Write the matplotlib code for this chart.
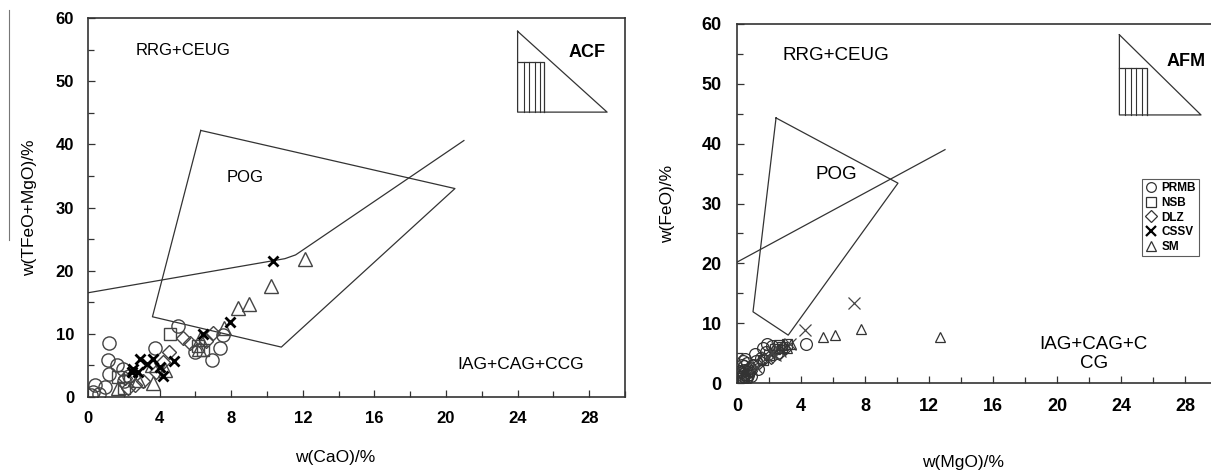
import numpy as np
import matplotlib
matplotlib.use('Agg')
import matplotlib.pyplot as plt
from matplotlib.ticker import MultipleLocator
from matplotlib.lines import Line2D

plt.rcParams['font.family'] = ['Liberation Sans', 'DejaVu Sans']

# Dados ==============================================================
# painel esquerdo: w(CaO) x w(TFeO+MgO)
prmb_x_l = [1.19, 1.13, 1.17, 0.39, 0.95, 1.6, 1.97, 3.74, 5.05, 5.98, 6.9, 7.37, 7.56, 0.3, 0.15, 0.6, 2.3, 2.0]
prmb_y_l = [8.6, 5.9, 3.7, 1.9, 1.6, 5.0, 4.5, 7.8, 11.3, 7.2, 5.9, 7.7, 9.8, 0.8, 0.3, 0.5, 3.3, 2.5]
nsb_x_l = [4.58, 6.16, 1.7, 2.0, 6.4]
nsb_y_l = [10.0, 8.1, 3.2, 1.5, 7.5]
dlz_x_l = [2.6, 4.55, 5.3, 7.0, 4.2, 2.07, 2.25, 5.7, 6.6, 3.1, 3.8]
dlz_y_l = [1.9, 7.2, 9.4, 10.1, 5.5, 3.0, 1.4, 8.6, 8.8, 2.6, 3.9]
cssv_x_l = [10.35, 7.93, 6.4, 2.9, 3.62, 4.82, 2.52, 2.45, 2.8, 4.17, 4.0, 3.3]
cssv_y_l = [21.5, 11.9, 9.9, 6.0, 6.0, 5.7, 4.4, 3.9, 4.0, 3.3, 4.8, 5.2]
sm_x_l = [12.1, 10.2, 8.4, 9.0, 7.6, 6.2, 6.25, 3.56, 3.62, 1.65, 2.8, 4.3]
sm_y_l = [21.9, 17.6, 14.1, 14.8, 10.9, 7.6, 9.2, 5.0, 2.2, 1.5, 2.7, 4.3]

# campos do diagrama (esquerdo)
pog_x_l = [6.3, 20.5, 10.8, 3.6, 6.3]
pog_y_l = [42.2, 33.0, 7.9, 12.7, 42.2]
div_x_l = [0.0, 11.0, 11.6, 21.0]
div_y_l = [16.5, 21.9, 22.5, 40.6]

# painel direito: w(MgO) x w(FeO)
prmb_x_r = [0.3, 0.4, 0.5, 0.3, 0.6, 0.8, 0.5, 1.0, 1.2, 0.7, 0.4, 1.5, 1.8, 2.2, 1.9, 0.9, 0.2,
            1.3, 2.5, 4.3, 0.6, 1.1, 0.35, 0.45, 0.25, 0.55, 0.3, 0.7, 0.4, 1.6]
prmb_y_r = [0.8, 1.5, 2.2, 3.0, 1.0, 2.5, 4.0, 3.0, 3.6, 1.8, 0.5, 4.2, 5.2, 6.2, 6.6, 1.2, 2.0,
            2.4, 5.0, 6.6, 3.3, 4.8, 1.2, 2.8, 0.3, 0.6, 1.9, 1.4, 3.6, 5.8]
nsb_x_r = [2.4, 2.0, 2.8, 1.6, 0.6, 2.6, 3.1, 0.4]
nsb_y_r = [5.6, 4.6, 6.0, 3.8, 1.4, 6.3, 6.5, 0.9]
dlz_x_r = [1.4, 2.1, 2.6, 3.0, 0.9, 0.5, 1.7, 2.3, 0.3]
dlz_y_r = [3.3, 4.1, 4.9, 5.6, 2.0, 1.1, 4.0, 5.3, 1.6]
cssv_x_r = [2.2, 2.5, 1.9, 2.7, 4.25, 7.3, 3.3, 1.2, 2.4]
cssv_y_r = [5.0, 5.8, 4.4, 5.3, 8.9, 13.3, 6.5, 2.6, 4.6]
sm_x_r = [3.4, 2.9, 5.35, 6.1, 7.75, 12.7, 3.1, 2.7]
sm_y_r = [6.6, 6.3, 7.7, 8.0, 9.0, 7.7, 5.8, 5.9]

pog_x_r = [2.44, 10.06, 3.2, 1.0, 2.44]
pog_y_r = [44.3, 33.4, 8.0, 11.9, 44.3]
div_x_r = [0.0, 13.0]
div_y_r = [20.2, 39.0]

nomes = ['PRMB', 'NSB', 'DLZ', 'CSSV', 'SM']
# ===================================================================

fig = plt.figure(figsize=(12.11, 4.71), dpi=100)
ax1 = fig.add_axes([88 / 1211, 1 - 397 / 471, 537 / 1211, 379 / 471])
ax2 = fig.add_axes([737 / 1211, 1 - 383 / 471, 480 / 1211, 359 / 471])

cor = '#333333'


def eixos(ax, tam, pad):
    ax.set_xlim(0, 30)
    ax.set_ylim(0, 60)
    ax.xaxis.set_major_locator(MultipleLocator(4))
    ax.xaxis.set_minor_locator(MultipleLocator(2))
    ax.yaxis.set_major_locator(MultipleLocator(10))
    ax.yaxis.set_minor_locator(MultipleLocator(5))
    ax.set_xticks(np.arange(0, 29, 4))
    ax.tick_params(which='both', direction='in', color=cor, width=0.9)
    ax.tick_params(which='major', length=5, labelsize=tam, pad=pad)
    ax.tick_params(which='minor', length=4)
    for lab in ax.get_xticklabels() + ax.get_yticklabels():
        lab.set_fontweight('bold')
    for s in ax.spines.values():
        s.set_color(cor)
        s.set_linewidth(1.2)


eixos(ax1, 12, 10)
eixos(ax2, 13, 11)

# painel esquerdo
ax1.plot(pog_x_l, pog_y_l, color=cor, lw=0.9)
ax1.plot(div_x_l, div_y_l, color=cor, lw=0.9)
mk = dict(ls='none', mfc='none', mec='#444444', mew=1.0)
ax1.plot(prmb_x_l, prmb_y_l, marker='o', ms=9.5, **mk)
ax1.plot(nsb_x_l, nsb_y_l, marker='s', ms=8.5, **mk)
ax1.plot(dlz_x_l, dlz_y_l, marker='D', ms=7.5, **mk)
ax1.plot(sm_x_l, sm_y_l, marker='^', ms=10, **mk)
ax1.plot(cssv_x_l, cssv_y_l, marker='x', ms=7, ls='none', color='black', mew=2.0)

narrow = ['Liberation Sans Narrow', 'Liberation Sans']
ax1.text(5.3, 54.8, 'RRG+CEUG', family=narrow, fontsize=12, ha='center', va='center')
ax1.text(8.8, 34.8, 'POG', family=narrow, fontsize=12, ha='center', va='center')
ax1.text(24.2, 5.1, 'IAG+CAG+CCG', family=narrow, fontsize=12.5, ha='center', va='center')

# triangulo ACF
ax1.plot([24.0, 24.0, 29.0, 24.0], [57.9, 45.1, 45.1, 57.9], color=cor, lw=0.9)
ax1.plot([24.0, 25.5, 25.5], [53.0, 53.0, 45.1], color=cor, lw=0.9)
for xv in [24.35, 24.65, 24.95, 25.25]:
    ax1.plot([xv, xv], [53.0, 45.1], color=cor, lw=0.8)
ax1.text(27.9, 54.6, 'ACF', fontsize=13, fontweight='bold', ha='center', va='center')

ax1.set_xlabel('w(CaO)/%', fontsize=12.5)
ax1.set_ylabel('w(TFeO+MgO)/%', fontsize=12.5)
ax1.xaxis.set_label_coords(0.46, -0.14)
ax1.yaxis.set_label_coords(-0.095, 0.5)

# painel direito
ax2.plot(pog_x_r, pog_y_r, color=cor, lw=0.9)
ax2.plot(div_x_r, div_y_r, color=cor, lw=0.9)
mk2 = dict(ls='none', mfc='none', mec='#333333', mew=0.9)
h1, = ax2.plot(prmb_x_r, prmb_y_r, marker='o', ms=8.5, **mk2)
h2, = ax2.plot(nsb_x_r, nsb_y_r, marker='s', ms=7, **mk2)
h3, = ax2.plot(dlz_x_r, dlz_y_r, marker='D', ms=6.5, **mk2)
h4, = ax2.plot(cssv_x_r, cssv_y_r, marker='x', ms=8, ls='none', color='#444444', mew=0.9)
h5, = ax2.plot(sm_x_r, sm_y_r, marker='^', ms=7, **mk2)

ax2.text(6.2, 54.8, 'RRG+CEUG', fontsize=13.5, ha='center', va='center')
ax2.text(6.2, 34.8, 'POG', fontsize=13.5, ha='center', va='center')
ax2.text(22.3, 4.8, 'IAG+CAG+C\nCG', fontsize=13.5, ha='center', va='center', linespacing=1.15)

ax2.plot([23.9, 23.9, 29.0, 23.9], [58.2, 44.8, 44.8, 58.2], color=cor, lw=0.9)
ax2.plot([23.9, 25.6, 25.6], [52.7, 52.7, 44.8], color=cor, lw=0.9)
for xv in [24.25, 24.6, 24.95, 25.3]:
    ax2.plot([xv, xv], [52.7, 44.8], color=cor, lw=0.8)
ax2.text(28.1, 53.7, 'AFM', fontsize=13, fontweight='bold', ha='center', va='center')

# legenda com marcadores pequenos
h1l = Line2D([], [], marker='o', ms=7, **mk2)
h2l = Line2D([], [], marker='s', ms=6.5, **mk2)
h3l = Line2D([], [], marker='D', ms=6, **mk2)
h4l = Line2D([], [], marker='x', ms=6.5, ls='none', color='black', mew=1.6)
h5l = Line2D([], [], marker='^', ms=7, **mk2)
leg = ax2.legend([h1l, h2l, h3l, h4l, h5l], nomes, loc='upper left',
                 bbox_to_anchor=(0.844, 0.567), prop={'size': 8.5, 'weight': 'bold'},
                 frameon=True, fancybox=False, borderpad=0.25, labelspacing=0.22,
                 handlelength=1.0, handletextpad=0.4, borderaxespad=0)
leg.get_frame().set_edgecolor('#333333')
leg.get_frame().set_linewidth(0.8)

ax2.set_xlabel('w(MgO)/%', fontsize=12.5)
ax2.set_ylabel('w(FeO)/%', fontsize=12.5)
ax2.xaxis.set_label_coords(0.47, -0.2)
ax2.yaxis.set_label_coords(-0.13, 0.5)

# linha de borda que aparece no canto esquerdo
fig.add_artist(Line2D([9 / 1211, 9 / 1211], [1 - 10 / 471, 1 - 240 / 471], color='#777777', lw=0.8))

plt.savefig('out.png', dpi=100)
